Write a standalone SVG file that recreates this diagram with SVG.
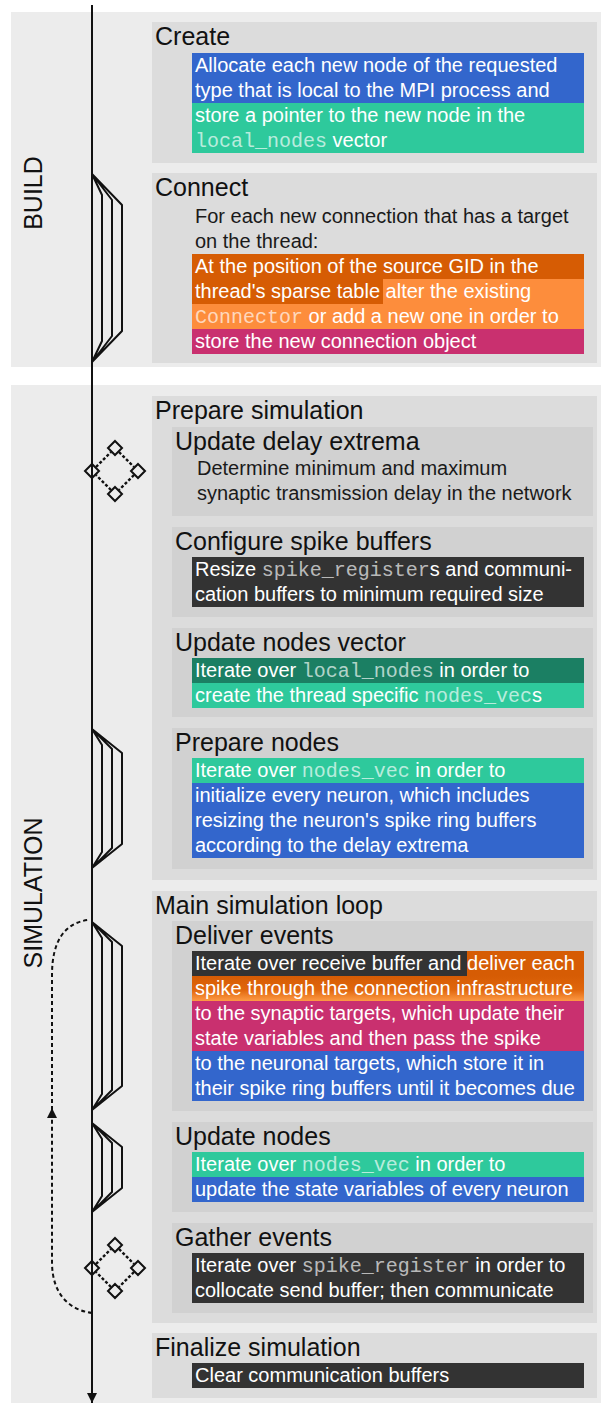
<svg xmlns="http://www.w3.org/2000/svg" width="601" height="1405" viewBox="0 0 601 1405">
<defs>
<style>
.panel{fill:#ececec}
.outer{fill:#dcdcdc}
.inner{fill:#d1d1d1}
.h{font-family:"Liberation Sans",Arial,sans-serif;font-size:25px;fill:#111}
.lab{font-family:"Liberation Sans",Arial,sans-serif;font-size:25px;fill:#111;text-anchor:middle}
.t{font-family:"Liberation Sans",Arial,sans-serif;font-size:20px;fill:#1a1a1a}
.w{font-family:"Liberation Sans",Arial,sans-serif;font-size:20px;fill:#ffffff}
.m{font-family:"Liberation Mono","Courier New",monospace;fill-opacity:0.68}
.blue{fill:#3366cc}
.teal{fill:#2ec99c}
.dteal{fill:#1b7f63}
.dor{fill:#d65c04}
.lor{fill:#fd8d3c}
.mag{fill:#c9306f}
.dark{fill:#333333}
.line{stroke:#111;stroke-width:2;fill:none}
.fork{stroke:#111;stroke-width:2;fill:none;stroke-linejoin:round}
.dash{stroke:#111;stroke-width:2;fill:none;stroke-dasharray:4,3}
.ddash{stroke:#111;stroke-width:2.4;fill:none;stroke-dasharray:3,2}
.dia{stroke:#111;stroke-width:2;fill:none}
</style>
<linearGradient id="orgrad" x1="0" y1="0" x2="0" y2="1">
<stop offset="0" stop-color="#d65c04"/>
<stop offset="0.55" stop-color="#e0660c"/>
<stop offset="1" stop-color="#fd9a45"/>
</linearGradient>
<marker id="arr" viewBox="0 0 10 10" refX="10" refY="5" markerWidth="11" markerHeight="10" markerUnits="userSpaceOnUse" orient="auto">
<path d="M0,0 L10,5 L0,10 z" fill="#111"/>
</marker>
</defs>
<rect width="601" height="1405" fill="#ffffff"/>

<g id="panel-build">
<rect class="panel" x="11" y="12" width="590" height="355"/>
<text class="lab" transform="translate(42,193) rotate(-90)">BUILD</text>
</g>
<g id="panel-simulation">
<rect class="panel" x="11" y="385" width="590" height="1018"/>
<text class="lab" transform="translate(42,893) rotate(-90)">SIMULATION</text>
</g>

<g id="node-create">
<rect class="outer" x="152" y="22" width="445" height="141"/>
<text class="h" x="155" y="45">Create</text>
<rect class="blue" x="192" y="53" width="392" height="50"/>
<rect class="teal" x="192" y="103" width="392" height="50"/>
<text class="w" x="195" y="72">Allocate each new node of the requested</text>
<text class="w" x="195" y="97">type that is local to the MPI process and</text>
<text class="w" x="195" y="122">store a pointer to the new node in the</text>
<text class="w" x="195" y="147"><tspan class="m">local_nodes</tspan> vector</text>
</g>

<g id="node-connect">
<rect class="outer" x="152" y="173" width="445" height="190"/>
<text class="h" x="155" y="196">Connect</text>
<text class="t" x="195" y="223">For each new connection that has a target</text>
<text class="t" x="195" y="248">on the thread:</text>
<rect class="dor" x="192" y="254" width="392" height="25"/>
<rect class="dor" x="192" y="279" width="191" height="25"/>
<rect class="lor" x="383" y="279" width="201" height="25"/>
<rect class="lor" x="192" y="304" width="392" height="25"/>
<rect class="mag" x="192" y="329" width="392" height="25"/>
<text class="w" x="195" y="273">At the position of the source GID in the</text>
<text class="w" x="195" y="298">thread's sparse table alter the existing</text>
<text class="w" x="195" y="323"><tspan class="m">Connector</tspan> or add a new one in order to</text>
<text class="w" x="195" y="348">store the new connection object</text>
</g>

<g id="node-prepare-simulation">
<rect class="outer" x="152" y="396" width="445" height="484"/>
<text class="h" x="155" y="419">Prepare simulation</text>
</g>
<g id="node-update-delay-extrema">
<rect class="inner" x="172" y="427" width="421" height="89"/>
<text class="h" x="175" y="450">Update delay extrema</text>
<text class="t" x="197" y="475">Determine minimum and maximum</text>
<text class="t" x="197" y="500">synaptic transmission delay in the network</text>
</g>
<g id="node-configure-spike-buffers">
<rect class="inner" x="172" y="527" width="421" height="90"/>
<text class="h" x="175" y="550">Configure spike buffers</text>
<rect class="dark" x="192" y="557" width="392" height="50"/>
<text class="w" x="195" y="576">Resize <tspan class="m">spike_register</tspan>s and communi-</text>
<text class="w" x="195" y="601">cation buffers to minimum required size</text>
</g>
<g id="node-update-nodes-vector">
<rect class="inner" x="172" y="628" width="421" height="89"/>
<text class="h" x="175" y="651">Update nodes vector</text>
<rect class="dteal" x="192" y="658" width="392" height="25"/>
<rect class="teal" x="192" y="683" width="392" height="25"/>
<text class="w" x="195" y="677">Iterate over <tspan class="m">local_nodes</tspan> in order to</text>
<text class="w" x="195" y="702">create the thread specific <tspan class="m">nodes_vec</tspan>s</text>
</g>
<g id="node-prepare-nodes">
<rect class="inner" x="172" y="728" width="421" height="141"/>
<text class="h" x="175" y="751">Prepare nodes</text>
<rect class="teal" x="192" y="758" width="392" height="25"/>
<rect class="blue" x="192" y="783" width="392" height="75"/>
<text class="w" x="195" y="777">Iterate over <tspan class="m">nodes_vec</tspan> in order to</text>
<text class="w" x="195" y="802">initialize every neuron, which includes</text>
<text class="w" x="195" y="827">resizing the neuron's spike ring buffers</text>
<text class="w" x="195" y="852">according to the delay extrema</text>
</g>

<g id="node-main-simulation-loop">
<rect class="outer" x="152" y="891" width="445" height="432"/>
<text class="h" x="155" y="914">Main simulation loop</text>
</g>
<g id="node-deliver-events">
<rect class="inner" x="172" y="921" width="421" height="190"/>
<text class="h" x="175" y="944">Deliver events</text>
<rect class="dark" x="192" y="951" width="275" height="25"/>
<rect class="dor" x="467" y="951" width="117" height="25"/>
<rect x="192" y="976" width="392" height="25" fill="url(#orgrad)"/>
<rect class="mag" x="192" y="1001" width="392" height="50"/>
<rect class="blue" x="192" y="1051" width="392" height="50"/>
<text class="w" x="195" y="970">Iterate over receive buffer and deliver each</text>
<text class="w" x="195" y="995">spike through the connection infrastructure</text>
<text class="w" x="195" y="1020">to the synaptic targets, which update their</text>
<text class="w" x="195" y="1045">state variables and then pass the spike</text>
<text class="w" x="195" y="1070">to the neuronal targets, which store it in</text>
<text class="w" x="195" y="1095">their spike ring buffers until it becomes due</text>
</g>
<g id="node-update-nodes">
<rect class="inner" x="172" y="1122" width="421" height="90"/>
<text class="h" x="175" y="1145">Update nodes</text>
<rect class="teal" x="192" y="1152" width="392" height="25"/>
<rect class="blue" x="192" y="1177" width="392" height="25"/>
<text class="w" x="195" y="1171">Iterate over <tspan class="m">nodes_vec</tspan> in order to</text>
<text class="w" x="195" y="1196">update the state variables of every neuron</text>
</g>
<g id="node-gather-events">
<rect class="inner" x="172" y="1223" width="421" height="90"/>
<text class="h" x="175" y="1246">Gather events</text>
<rect class="dark" x="192" y="1253" width="392" height="50"/>
<text class="w" x="195" y="1272">Iterate over <tspan class="m">spike_register</tspan> in order to</text>
<text class="w" x="195" y="1297">collocate send buffer; then communicate</text>
</g>
<g id="node-finalize-simulation">
<rect class="outer" x="152" y="1333" width="445" height="65"/>
<text class="h" x="155" y="1356">Finalize simulation</text>
<rect class="dark" x="192" y="1363" width="392" height="25"/>
<text class="w" x="195" y="1382">Clear communication buffers</text>
</g>

<g id="connectors">
<path class="line" d="M92,5 L92,1403" marker-end="url(#arr)"/>
<path class="fork" d="M92,174 L102,195 L102,341 L92,362 M92,174 L112,200 L112,336 L92,362 M92,174 L122,205 L122,331 L92,362"/>
<path class="fork" d="M92,729 L102,745 L102,852 L92,868 M92,729 L112,749 L112,848 L92,868 M92,729 L122,753 L122,844 L92,868"/>
<path class="fork" d="M92,922 L102,938 L102,1094 L92,1110 M92,922 L112,942 L112,1090 L92,1110 M92,922 L122,946 L122,1086 L92,1110"/>
<path class="fork" d="M92,1123 L102,1139 L102,1196 L92,1212 M92,1123 L112,1143 L112,1192 L92,1212 M92,1123 L122,1147 L122,1188 L92,1212"/>
<path class="ddash" d="M96,467 L111,452 M119,452 L134,467 M134,475 L119,490 M111,490 L96,475"/>
<path class="dia" d="M92,464 L99,471 L92,478 L85,471 Z M115,441 L122,448 L115,455 L108,448 Z M138,464 L145,471 L138,478 L131,471 Z M115,487 L122,494 L115,501 L108,494 Z"/>
<path class="ddash" d="M96,1264 L111,1249 M119,1249 L134,1264 M134,1272 L119,1287 M111,1287 L96,1272"/>
<path class="dia" d="M92,1261 L99,1268 L92,1275 L85,1268 Z M115,1238 L122,1245 L115,1252 L108,1245 Z M138,1261 L145,1268 L138,1275 L131,1268 Z M115,1284 L122,1291 L115,1298 L108,1291 Z"/>
<path class="dash" d="M92,1313 C70,1310 52,1295 52,1262 L52,1108" marker-end="url(#arr)"/>
<path class="dash" d="M52,1110 L52,975 C52,942 64,923 88,920"/>
</g>
</svg>
